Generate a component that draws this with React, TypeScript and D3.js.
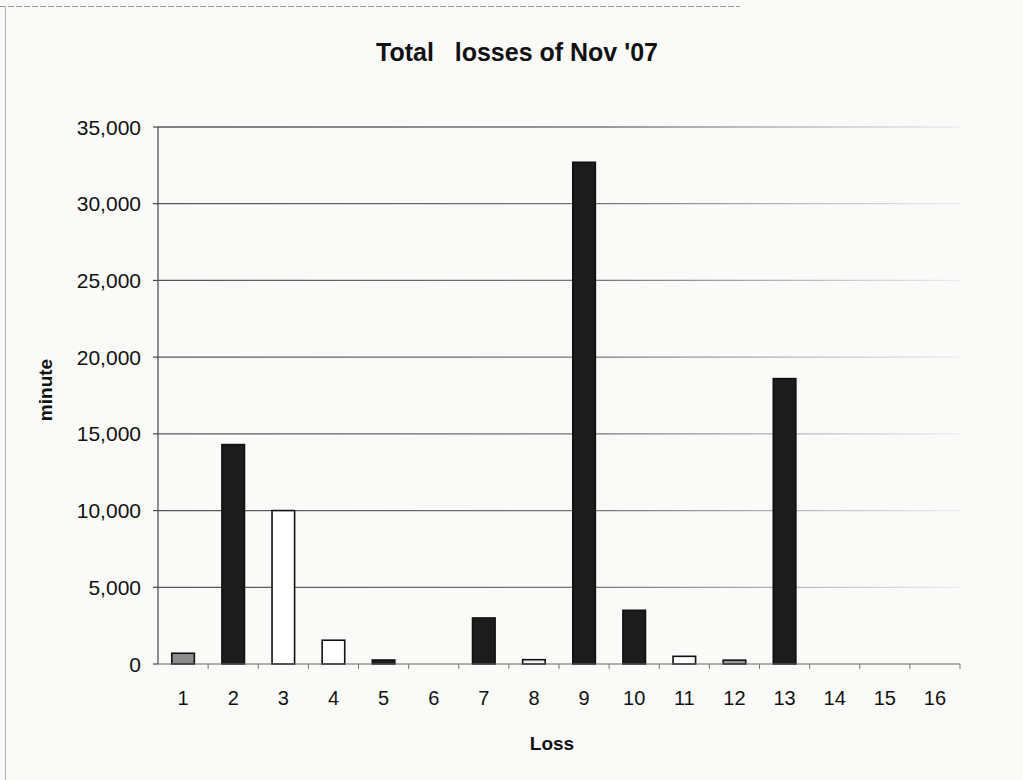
import React from "react";
import * as d3 from "d3";

// Loss categories 1..16 and total minutes lost per category
const categories: string[] = ["1","2","3","4","5","6","7","8","9","10","11","12","13","14","15","16"];
const minutes: number[] = [700, 14300, 10000, 1550, 260, 0, 3000, 280, 32700, 3500, 500, 250, 18600, 0, 0, 0];
// Bar fill per category (Excel-style pattern colours)
const fills: string[] = ["#8c8c8c","#1c1c1c","#ffffff","#ffffff","#1c1c1c","#ffffff","#1c1c1c","#f2f2f2","#1c1c1c","#1c1c1c","#ffffff","#9a9a9a","#1c1c1c","#ffffff","#ffffff","#ffffff"];
const yTicks: number[] = [0, 5000, 10000, 15000, 20000, 25000, 30000, 35000];

const W = 1023;
const H = 780;
const plot = { left: 158, right: 960, top: 127, bottom: 664 };

export default function App() {
  const x = d3
    .scaleBand<string>()
    .domain(categories)
    .range([plot.left, plot.right])
    .paddingInner(0.55)
    .paddingOuter(0.275);
  const y = d3.scaleLinear().domain([0, 35000]).range([plot.bottom, plot.top]);
  const fmt = d3.format(",");
  const step = x.step();
  const font = "'Liberation Sans', Arial, sans-serif";

  return (
    <svg
      width={W}
      height={H}
      style={{ position: "absolute", left: 0, top: 0, background: "#fafaf9" }}
      fontFamily={font}
    >
      <defs>
        <linearGradient id="gridFade" gradientUnits="userSpaceOnUse" x1={plot.left} x2={plot.right} y1={0} y2={0}>
          <stop offset="0" stopColor="#555" />
          <stop offset="0.55" stopColor="#777" />
          <stop offset="0.85" stopColor="#c8c8c8" />
          <stop offset="1" stopColor="#eeeeee" />
        </linearGradient>
      </defs>

      {/* chart frame */}
      <line x1={0} x2={740} y1={6.5} y2={6.5} stroke="#9a9a9a" strokeWidth={1} strokeDasharray="6 2" />
      <line x1={5.5} x2={5.5} y1={6} y2={H} stroke="#b0b0b0" strokeWidth={1} />

      {/* title */}
      <text x={517} y={61} textAnchor="middle" fontSize={25} fontWeight="bold" fill="#111" style={{ whiteSpace: "pre" }}>
        {"Total   losses of Nov '07"}
      </text>

      {/* gridlines */}
      {yTicks.filter((t) => t > 0).map((t) => (
        <line key={t} x1={plot.left} x2={plot.right} y1={y(t)} y2={y(t)} stroke="url(#gridFade)" strokeWidth={1.3} />
      ))}

      {/* y axis */}
      <line x1={plot.left} x2={plot.left} y1={plot.top} y2={plot.bottom} stroke="#444" strokeWidth={1.2} />
      {yTicks.map((t) => (
        <g key={t}>
          <line x1={plot.left - 5} x2={plot.left} y1={y(t)} y2={y(t)} stroke="#444" strokeWidth={1.2} />
          <text x={141} y={y(t)} dy="0.36em" textAnchor="end" fontSize={21} fill="#111">
            {fmt(t)}
          </text>
        </g>
      ))}

      {/* bars */}
      {categories.map((c, i) =>
        minutes[i] > 0 ? (
          <rect
            key={c}
            x={x(c)!}
            y={y(minutes[i])}
            width={x.bandwidth()}
            height={y(0) - y(minutes[i])}
            fill={fills[i]}
            stroke="#111"
            strokeWidth={1.6}
          />
        ) : null
      )}

      {/* x axis */}
      <line x1={plot.left} x2={plot.right} y1={plot.bottom} y2={plot.bottom} stroke="#666" strokeWidth={1.2} />
      {categories.map((c, i) => (
        <line
          key={"t" + c}
          x1={plot.left + step * (i + 1)}
          x2={plot.left + step * (i + 1)}
          y1={plot.bottom}
          y2={plot.bottom + 5}
          stroke="#777"
          strokeWidth={1}
        />
      ))}
      {categories.map((c) => (
        <text key={"l" + c} x={x(c)! + x.bandwidth() / 2} y={705} textAnchor="middle" fontSize={20} fill="#111">
          {c}
        </text>
      ))}

      {/* axis titles */}
      <text x={552} y={750} textAnchor="middle" fontSize={19} fontWeight="bold" fill="#111">
        Loss
      </text>
      <text
        transform={`translate(52, 390) rotate(-90)`}
        textAnchor="middle"
        fontSize={19}
        fontWeight="bold"
        fill="#111"
      >
        minute
      </text>
    </svg>
  );
}
